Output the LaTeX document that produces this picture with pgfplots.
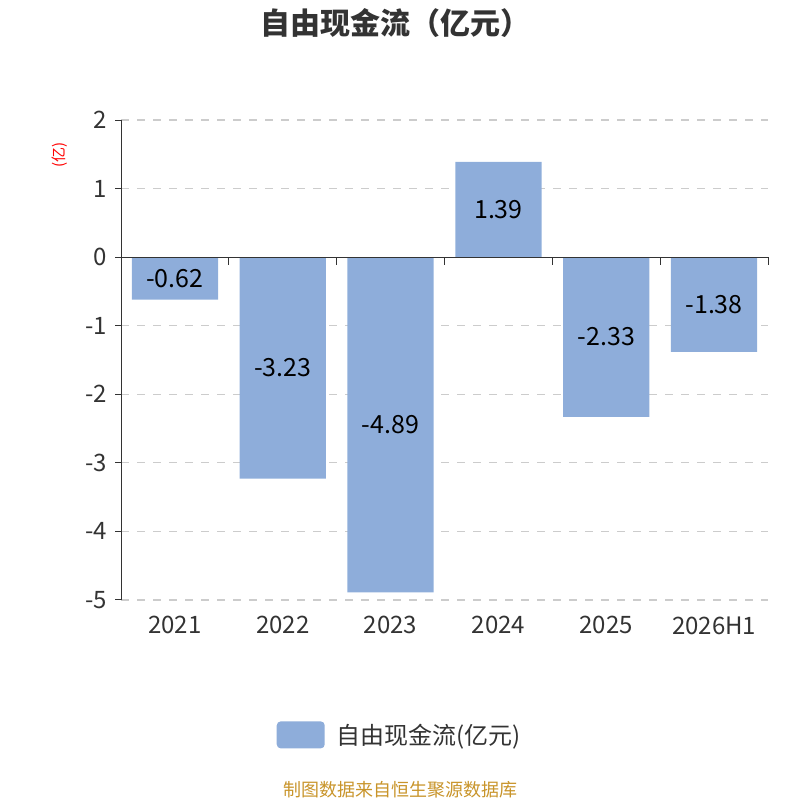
\documentclass[border=0pt]{standalone}
\usepackage{fontspec}
\setmainfont{Noto Sans CJK SC}
\usepackage{pgfplots}
\pgfplotsset{compat=1.18}
\definecolor{barcol}{RGB}{142,173,218}
\definecolor{axcol}{RGB}{51,51,51}
\definecolor{txtcol}{RGB}{51,51,51}
\definecolor{gridcol}{RGB}{204,204,204}
\definecolor{footcol}{RGB}{200,148,42}
\begin{document}
\begin{tikzpicture}[x=1pt,y=1pt]
\useasboundingbox (0,0) rectangle (800,800);
\node[font=\bfseries\fontsize{30}{34}\selectfont, text=txtcol] at (395,777) {自由现金流（亿元）};
\node[font=\fontsize{15}{17}\selectfont, text=red, rotate=90] at (60,645) {(亿)};
\node[font=\fontsize{18}{21}\selectfont, text=footcol] at (400,10) {制图数据来自恒生聚源数据库};
\begin{axis}[
  at={(121pt,200pt)}, anchor=south west,
  scale only axis, width=647pt, height=480pt,
  xmin=-0.5, xmax=5.5, ymin=-5, ymax=2,
  ybar, bar width=0.8, bar shift=0pt,
  axis lines=left, axis line style={-, draw=axcol, line width=1pt},
  x axis line style={draw=none},
  xtick={0,1,2,3,4,5},
  xticklabels={2021,2022,2023,2024,2025,2026H1},
  xtick style={draw=none},
  ytick={-5,-4,-3,-2,-1,0,1,2},
  ytick style={draw=axcol, line width=1pt},
  tick align=outside, major tick length=6pt,
  ymajorgrids, grid style={gridcol, line width=1.2pt, dash pattern=on 8pt off 8pt},
  ticklabel style={font=\fontsize{24}{28}\selectfont, text=txtcol},
  xticklabel style={yshift=-7pt},
  yticklabel style={inner sep=2pt, xshift=-6pt},
  /pgf/number format/assume math mode=true,
  point meta=explicit symbolic,
  nodes near coords,
  visualization depends on={y \as \rawy},
  nodes near coords style={font=\fontsize{25}{29}\selectfont, text=black, anchor=center,
     shift={(axis direction cs:0,-\rawy/2)}},
  legend style={at={(axis description cs:0.431,-0.281)}, anchor=center, draw=none,
     font=\fontsize{24}{28}\selectfont, text=txtcol, inner sep=0pt},
  legend image code/.code={\fill[barcol, rounded corners=4pt] (0pt,-13.5pt) rectangle (48pt,13.5pt);\path (58pt,0pt);},
  clip=false,
]
\addplot[fill=barcol, draw=none] coordinates {
  (0,-0.62) [-0.62]
  (1,-3.23) [-3.23]
  (2,-4.89) [-4.89]
  (3,1.39) [1.39]
  (4,-2.33) [-2.33]
  (5,-1.38) [-1.38]
};
\addlegendentry{自由现金流(亿元)}
\draw[axcol, line width=1pt] (axis cs:-0.5,0) -- (axis cs:5.5,0);
\pgfplotsinvokeforeach{0.5,1.5,2.5,3.5,4.5,5.5}{\draw[axcol, line width=1pt] (axis cs:#1,0) -- ++(0pt,-8pt);}
\end{axis}
\end{tikzpicture}
\end{document}
